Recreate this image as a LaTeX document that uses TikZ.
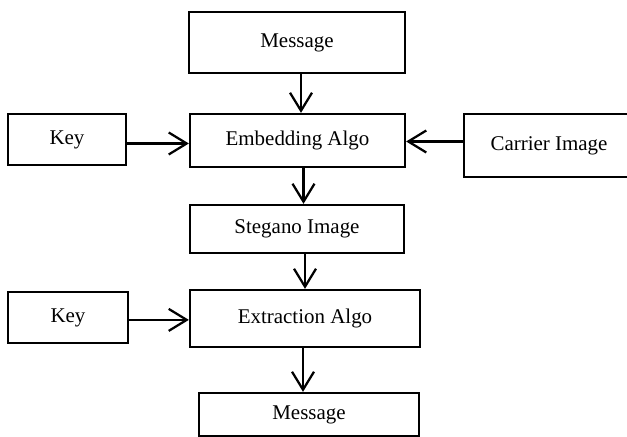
\documentclass[tikz,border=0pt]{standalone}
\usepackage{fontspec}
\setmainfont{Liberation Serif}
\usetikzlibrary{arrows.meta}

\begin{document}
\begin{tikzpicture}[
    box/.style={rectangle, draw, line width=1.6pt, inner sep=0pt, font=\fontsize{14.9}{18}\selectfont},
    flow/.style={line width=1.6pt, -{Straight Barb[length=0.45cm, width=0.55cm, line width=1.6pt]}}
]
    \useasboundingbox (0,0) rectangle (15.675,10.925);

    % Lato di inserimento
    \node[box, minimum width=5.4cm, minimum height=1.525cm] (msgin) at (7.425,9.8625) {Message};
    \node[box, minimum width=5.375cm, minimum height=1.325cm] (embed) at (7.4375,7.4125) {Embedding Algo};
    \node[box, minimum width=2.95cm, minimum height=1.275cm] (keyin) at (1.675,7.4375) {Key};
    \node[box, minimum width=4.25cm, minimum height=1.575cm] (carrier) at (13.725,7.2875) {Carrier Image};
    \node[box, minimum width=5.35cm, minimum height=1.2cm] (stego) at (7.425,5.2) {Stegano Image};

    % Lato di estrazione
    \node[box, minimum width=5.75cm, minimum height=1.425cm] (extract) at (7.625,2.9625) {Extraction Algo};
    \node[box, minimum width=3.0cm, minimum height=1.275cm] (keyout) at (1.7,2.9875) {Key};
    \node[box, minimum width=5.5cm, minimum height=1.075cm] (msgout) at (7.725,0.5625) {Message};

    % Connessioni
    \draw[flow] ([xshift=1mm]msgin.south) -- ([xshift=1mm]msgin.south |- embed.north);
    \draw[flow] ([yshift=-1mm]keyin.east) -- ([yshift=-1mm]keyin.east -| embed.west);
    \draw[flow] ([yshift=1mm]carrier.west) -- ([yshift=1mm]carrier.west -| embed.east);
    \draw[flow] ([xshift=1.5mm]embed.south) -- ([xshift=1.5mm]embed.south |- stego.north);
    \draw[flow] ([xshift=2mm]stego.south) -- ([xshift=2mm]stego.south |- extract.north);
    \draw[flow] ([yshift=-0.6mm]keyout.east) -- ([yshift=-0.6mm]keyout.east -| extract.west);
    \draw[flow] ([xshift=-0.5mm]extract.south) -- ([xshift=-0.5mm]extract.south |- msgout.north);
\end{tikzpicture}
\end{document}
